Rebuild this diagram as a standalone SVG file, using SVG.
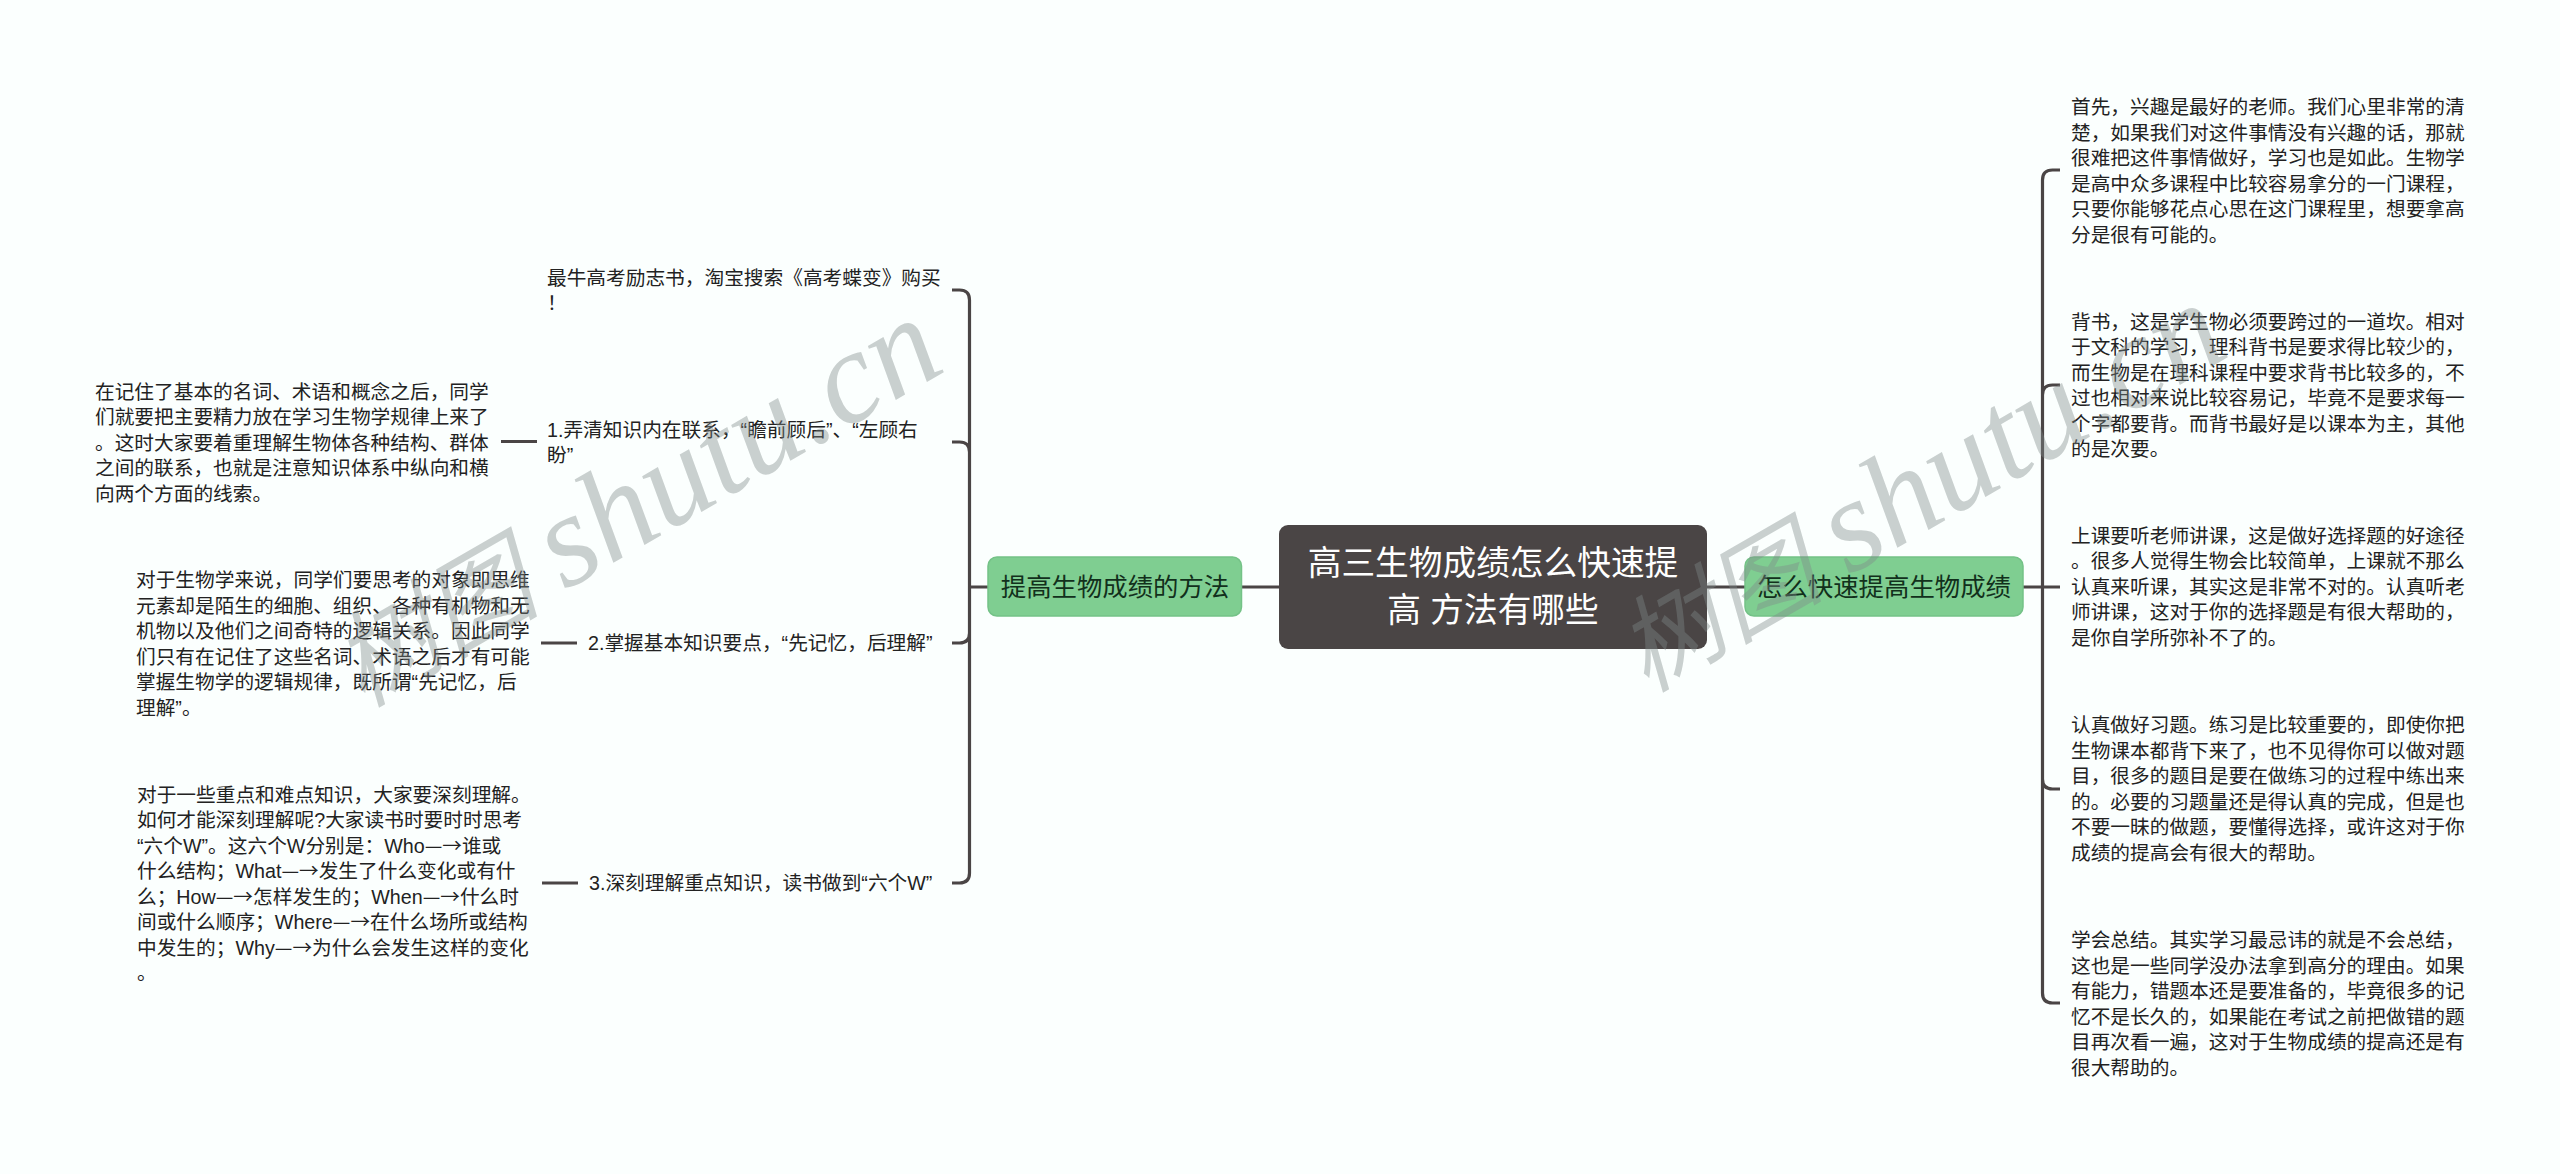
<svg xmlns="http://www.w3.org/2000/svg" width="2560" height="1174" viewBox="0 0 2560 1174">
<style>
text{font-family:"Liberation Sans","Noto Sans CJK SC",sans-serif}
.t{font-size:19.7px;fill:#222}
.a{font-family:"Noto Sans CJK SC",sans-serif}
.r{font-size:33.7px;fill:#fff;text-anchor:middle}
.m{font-size:25.4px;fill:#12301c;text-anchor:middle}
.c{fill:none;stroke:#4a4545;stroke-width:3.2}
.g{fill:#7fce91;stroke:#74c287;stroke-width:1.5}
.w{font-family:"Liberation Serif","Noto Sans CJK SC",serif;font-style:italic;font-size:132px;fill:#7f8a8a;fill-opacity:.4}
.wc{font-size:104px}
</style>
<rect width="2560" height="1174" fill="#fbfffe"/>
<g id="connectors">
<path class="c" d="M1241.500 587H1279M1707 587H1745M2023 587H2060M2042.500 993V180Q2042.500 170 2052.500 170H2060M2042.500 395Q2042.500 385 2052.500 385H2060M2042.500 779Q2042.500 789 2052.500 789H2060M2042.500 993Q2042.500 1003 2052.500 1003H2060"/>
<path class="c" d="M988 587H970M969.500 873V300Q969.500 290 959.500 290H952M969.500 452Q969.500 442 959.500 442H952M969.500 633Q969.500 643 959.500 643H952M969.500 873Q969.500 883 959.500 883H952M501 441.500H537M541 643H577M542 883H578"/>
</g>
<g id="root"><rect x="1279" y="525" width="428" height="124" rx="9" fill="#4a4545"/><text class="r"><tspan x="1493" y="575">高三生物成绩怎么快速提</tspan><tspan x="1493" y="622">高 方法有哪些</tspan></text></g>
<g id="left-main"><rect class="g" x="988" y="557" width="253.500" height="59" rx="9"/><text class="m" x="1115" y="596">提高生物成绩的方法</text></g>
<g id="right-main"><rect class="g" x="1745" y="557" width="278" height="59" rx="9"/><text class="m" x="1884" y="596">怎么快速提高生物成绩</text></g>
<g id="left-ad"><text class="t"><tspan x="547" y="285">最牛高考励志书，淘宝搜索《高考蝶变》购买</tspan><tspan x="547" y="310">！</tspan></text></g>
<g id="left-1"><text class="t"><tspan x="547" y="437">1.弄清知识内在联系，“瞻前顾后”、“左顾右</tspan><tspan x="547" y="462">盼”</tspan></text></g>
<g id="left-1-leaf"><text class="t"><tspan x="95" y="399">在记住了基本的名词、术语和概念之后，同学</tspan><tspan x="95" y="424">们就要把主要精力放在学习生物学规律上来了</tspan><tspan x="95" y="450">。这时大家要着重理解生物体各种结构、群体</tspan><tspan x="95" y="475">之间的联系，也就是注意知识体系中纵向和横</tspan><tspan x="95" y="501">向两个方面的线索。</tspan></text></g>
<g id="left-2"><text class="t" x="588" y="650">2.掌握基本知识要点，“先记忆，后理解”</text></g>
<g id="left-2-leaf"><text class="t"><tspan x="136" y="587">对于生物学来说，同学们要思考的对象即思维</tspan><tspan x="136" y="613">元素却是陌生的细胞、组织、各种有机物和无</tspan><tspan x="136" y="638">机物以及他们之间奇特的逻辑关系。因此同学</tspan><tspan x="136" y="664">们只有在记住了这些名词、术语之后才有可能</tspan><tspan x="136" y="689">掌握生物学的逻辑规律，既所谓“先记忆，后</tspan><tspan x="136" y="715">理解”。</tspan></text></g>
<g id="left-3"><text class="t" x="589" y="890">3.深刻理解重点知识，读书做到“六个W”</text></g>
<g id="left-3-leaf"><text class="t"><tspan x="137" y="802">对于一些重点和难点知识，大家要深刻理解。</tspan><tspan x="137" y="827">如何才能深刻理解呢?大家读书时要时时思考</tspan><tspan x="137" y="853">“六个W”。这六个W分别是：Who<tspan class="a">—→</tspan>谁或</tspan><tspan x="137" y="878">什么结构；What<tspan class="a">—→</tspan>发生了什么变化或有什</tspan><tspan x="137" y="904">么；How<tspan class="a">—→</tspan>怎样发生的；When<tspan class="a">—→</tspan>什么时</tspan><tspan x="137" y="929">间或什么顺序；Where<tspan class="a">—→</tspan>在什么场所或结构</tspan><tspan x="137" y="955">中发生的；Why<tspan class="a">—→</tspan>为什么会发生这样的变化</tspan><tspan x="137" y="980">。</tspan></text></g>
<g id="right-1"><text class="t"><tspan x="2071" y="114">首先，兴趣是最好的老师。我们心里非常的清</tspan><tspan x="2071" y="140">楚，如果我们对这件事情没有兴趣的话，那就</tspan><tspan x="2071" y="165">很难把这件事情做好，学习也是如此。生物学</tspan><tspan x="2071" y="191">是高中众多课程中比较容易拿分的一门课程，</tspan><tspan x="2071" y="216">只要你能够花点心思在这门课程里，想要拿高</tspan><tspan x="2071" y="242">分是很有可能的。</tspan></text></g>
<g id="right-2"><text class="t"><tspan x="2071" y="329">背书，这是学生物必须要跨过的一道坎。相对</tspan><tspan x="2071" y="354">于文科的学习，理科背书是要求得比较少的，</tspan><tspan x="2071" y="380">而生物是在理科课程中要求背书比较多的，不</tspan><tspan x="2071" y="405">过也相对来说比较容易记，毕竟不是要求每一</tspan><tspan x="2071" y="431">个字都要背。而背书最好是以课本为主，其他</tspan><tspan x="2071" y="456">的是次要。</tspan></text></g>
<g id="right-3"><text class="t"><tspan x="2071" y="543">上课要听老师讲课，这是做好选择题的好途径</tspan><tspan x="2071" y="568">。很多人觉得生物会比较简单，上课就不那么</tspan><tspan x="2071" y="594">认真来听课，其实这是非常不对的。认真听老</tspan><tspan x="2071" y="619">师讲课，这对于你的选择题是有很大帮助的，</tspan><tspan x="2071" y="645">是你自学所弥补不了的。</tspan></text></g>
<g id="right-4"><text class="t"><tspan x="2071" y="732">认真做好习题。练习是比较重要的，即使你把</tspan><tspan x="2071" y="758">生物课本都背下来了，也不见得你可以做对题</tspan><tspan x="2071" y="783">目，很多的题目是要在做练习的过程中练出来</tspan><tspan x="2071" y="809">的。必要的习题量还是得认真的完成，但是也</tspan><tspan x="2071" y="834">不要一昧的做题，要懂得选择，或许这对于你</tspan><tspan x="2071" y="860">成绩的提高会有很大的帮助。</tspan></text></g>
<g id="right-5"><text class="t"><tspan x="2071" y="947">学会总结。其实学习最忌讳的就是不会总结，</tspan><tspan x="2071" y="973">这也是一些同学没办法拿到高分的理由。如果</tspan><tspan x="2071" y="998">有能力，错题本还是要准备的，毕竟很多的记</tspan><tspan x="2071" y="1024">忆不是长久的，如果能在考试之前把做错的题</tspan><tspan x="2071" y="1049">目再次看一遍，这对于生物成绩的提高还是有</tspan><tspan x="2071" y="1075">很大帮助的。</tspan></text></g>
<text class="w" transform="translate(362 708) rotate(-30)"><tspan class="wc">树图 </tspan>shutu.cn</text>
<text class="w" transform="translate(1646 693) rotate(-30)"><tspan class="wc">树图 </tspan>shutu.cn</text>
</svg>
